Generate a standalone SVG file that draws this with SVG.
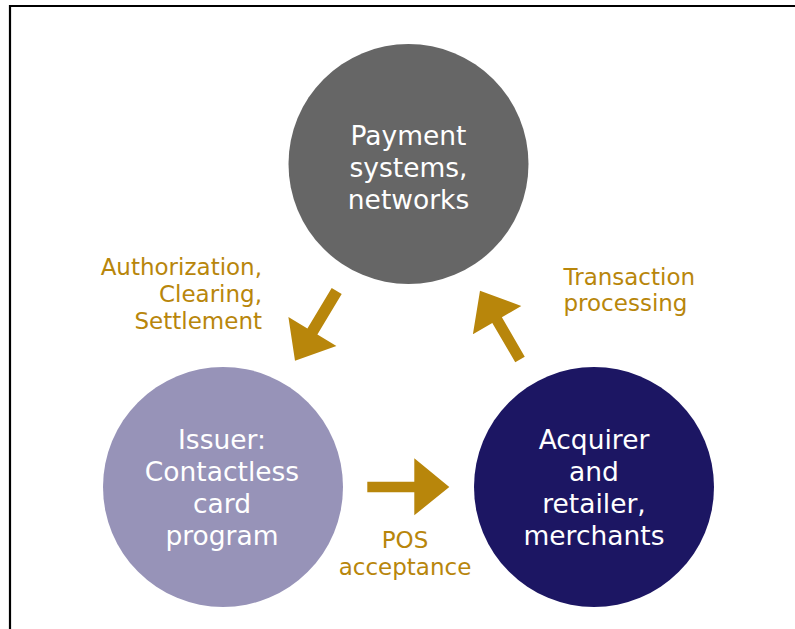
<svg xmlns="http://www.w3.org/2000/svg" width="795" height="629" viewBox="0 0 795 629">
<style>
.node text{font-family:"DejaVu Sans",Verdana,sans-serif;font-size:26.5px;fill:#ffffff;text-anchor:middle}
.lbl{font-family:"DejaVu Sans",Verdana,sans-serif;font-size:23px;fill:#b8860b}
.arrow{fill:#b8860b}
</style>
<rect width="795" height="629" fill="#ffffff"/>
<path d="M10,629 V6 H795" fill="none" stroke="#000000" stroke-width="2.2"/>
<g id="payment-systems" class="node">
<circle cx="408.5" cy="164" r="120" fill="#666666"/>
<text x="408.5" y="145">Payment</text>
<text x="408.5" y="177">systems,</text>
<text x="408.5" y="208.5">networks</text>
</g>
<g id="issuer" class="node">
<circle cx="223" cy="487" r="120" fill="#9793b8"/>
<text x="222" y="449">Issuer:</text>
<text x="222" y="481">Contactless</text>
<text x="222" y="513">card</text>
<text x="222" y="545">program</text>
</g>
<g id="acquirer" class="node">
<circle cx="594" cy="487" r="120" fill="#1c1663"/>
<text x="594" y="449">Acquirer</text>
<text x="594" y="481">and</text>
<text x="594" y="513">retailer,</text>
<text x="594" y="545">merchants</text>
</g>
<g id="connectors">
<polygon class="arrow" points="331.7,288 341.7,294 317.4,334.5 336.4,345.9 295,360.7 288.4,317.1 307.4,328.5"/>
<polygon class="arrow" points="515.25,362.3 492.3,322.9 472.9,334.2 480,290.7 521.3,306 501.9,317.3 524.75,356.7"/>
<polygon class="arrow" points="367.3,481.7 414.3,481.7 414.3,458.3 449.3,487 414.3,515.3 414.3,492.3 367.3,492.3"/>
<text class="lbl" text-anchor="end"><tspan x="262" y="274.5">Authorization,</tspan><tspan x="262" y="301.5">Clearing,</tspan><tspan x="262" y="328.5">Settlement</tspan></text>
<text class="lbl"><tspan x="563.5" y="285">Transaction</tspan><tspan x="563.5" y="311">processing</tspan></text>
<text class="lbl" text-anchor="middle"><tspan x="405" y="548">POS</tspan><tspan x="405" y="575">acceptance</tspan></text>
</g>
</svg>
